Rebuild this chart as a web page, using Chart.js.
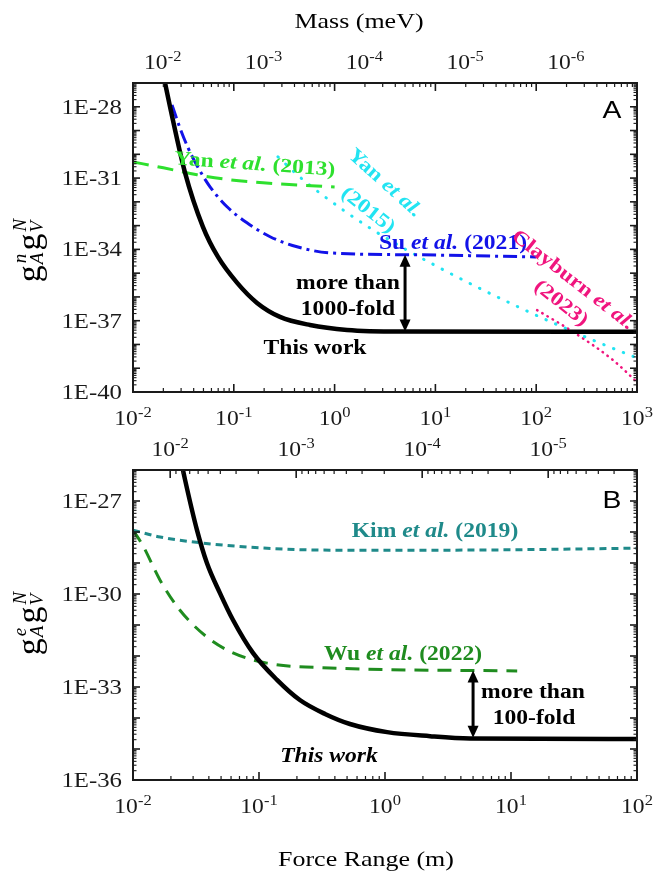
<!DOCTYPE html>
<html>
<head>
<meta charset="utf-8">
<script src="https://cdn.jsdelivr.net/npm/chart.js@4.4.0/dist/chart.umd.min.js"></script>
<style>
html, body { margin: 0; padding: 0; background: #fff; }
#wrap { position: relative; width: 655px; height: 876px; }
.box { position: absolute; left: 0; width: 655px; }
</style>
</head>
<body>
<div id="wrap">
  <div class="box" style="top:0;height:435px"><canvas id="chartA"></canvas></div>
  <div class="box" style="top:435px;height:441px"><canvas id="chartB"></canvas></div>
</div>
<script>
// ---- panel A : g_A^n g_V^N vs force range ----
const forceTicksA = [-2, -1, 0, 1, 2, 3];
const massTicksA = [-2, -3, -4, -5, -6];
const yTicksA = [-28, -31, -34, -37, -40];

const thisWorkA_x = [0.0195, 0.0208, 0.0233, 0.0328, 0.0494, 0.0697, 0.108, 0.170, 0.287, 0.570, 1.33, 4.46, 1000];
const thisWorkA_y = [3.5e-27, 1.0e-27, 1.0e-28, 1.7e-31, 8.9e-34, 4.8e-35, 3.9e-36, 5.6e-37, 1.45e-37, 6.6e-38, 4.1e-38, 3.5e-38, 3.4e-38];
const su2021_x = [0.0244, 0.0292, 0.0352, 0.0432, 0.0581, 0.0857, 0.135, 0.229, 0.424, 0.90, 7.03, 100];
const su2021_y = [1.2e-28, 1.3e-29, 1.86e-30, 3.3e-31, 4.3e-32, 6.2e-33, 1.32e-33, 3.4e-34, 1.29e-34, 7.1e-35, 5.9e-35, 4.8e-35];
const yan2013_x = [0.01, 0.020, 0.0432, 0.0912, 0.195, 1.0];
const yan2013_y = [4.8e-31, 2.7e-31, 1.38e-31, 8.5e-32, 6.3e-32, 4.2e-32];
const yan2015_x = [0.274, 0.486, 1.21, 2.40, 4.78, 11.1, 25.9, 69.0, 147, 401, 1000];
const yan2015_y = [7.8e-31, 8.5e-32, 4.6e-33, 6.6e-34, 1.15e-34, 1.65e-35, 2.6e-36, 3.5e-37, 8.1e-38, 1.29e-38, 2.7e-39];
const clayburn2023_x = [102, 232, 578, 1000];
const clayburn2023_y = [2.8e-37, 3.4e-38, 2.2e-39, 2.6e-40];

// ---- panel B : g_A^e g_V^N vs force range ----
const forceTicksB = [-2, -1, 0, 1, 2];
const massTicksB = [-2, -3, -4, -5];
const yTicksB = [-27, -30, -33, -36];

const thisWorkB_x = [0.024, 0.0259, 0.0322, 0.0386, 0.0490, 0.0622, 0.0895, 0.139, 0.211, 0.334, 0.527, 1.04, 2.28, 4.73, 100];
const thisWorkB_y = [2.1e-26, 4.8e-27, 1.15e-28, 1.0e-29, 1.07e-30, 1.45e-31, 1.26e-32, 1.7e-33, 3.8e-34, 1.35e-34, 6.4e-35, 3.5e-35, 2.6e-35, 2.2e-35, 2.1e-35];
const kim2019_x = [0.01, 0.0164, 0.034, 0.116, 0.366, 3.28, 100];
const kim2019_y = [1.15e-28, 6.9e-29, 4.5e-29, 3.0e-29, 2.6e-29, 2.6e-29, 3.0e-29];
const wu2022_x = [0.01, 0.012, 0.0164, 0.0236, 0.0386, 0.0622, 0.116, 0.366, 11.2];
const wu2022_y = [1.15e-28, 3.6e-29, 2.8e-30, 3.0e-31, 4.1e-32, 1.26e-32, 5.9e-33, 4.1e-33, 3.3e-33];

// hbar*c in m*meV, converts mass to force range for the top axis
const HBARC = 1.973e-4;

const SERIF = '"Liberation Serif", "Times New Roman", serif';
const SX = 1.18; // the original figure is a bit stretched sideways

const C = {
  black: '#000000', su: '#1212e8', yan13: '#2ee02e', yan15: '#22e4f2',
  clay: '#f0157e', kim: '#1f8a8a', wu: '#1f8c1f', axis: '#1a1a1a'
};

function pts(xs, ys) { return xs.map((x, i) => ({ x: x, y: ys[i] })); }

function line(ctx, x1, y1, x2, y2, w) {
  ctx.lineWidth = w;
  ctx.beginPath(); ctx.moveTo(x1, y1); ctx.lineTo(x2, y2); ctx.stroke();
}

function logTicks(min, max) {
  const out = [];
  for (let e = Math.floor(Math.log10(min)) - 1; e <= Math.ceil(Math.log10(max)); e++) {
    for (let j = 1; j <= 9; j++) {
      const v = j * Math.pow(10, e);
      if (v >= min * 0.999 && v <= max * 1.001) out.push({ v: v, major: j === 1 });
    }
  }
  return out;
}

// rich text centred at (cx, cy), parts = [[text, font, dy]]
function rich(ctx, parts, cx, cy, color, angle) {
  ctx.save();
  ctx.translate(cx, cy);
  ctx.rotate((angle || 0) * Math.PI / 180);
  ctx.scale(SX, 1);
  ctx.fillStyle = color;
  ctx.textBaseline = 'alphabetic';
  ctx.textAlign = 'left';
  let w = 0;
  parts.forEach(p => { ctx.font = p[1]; w += ctx.measureText(p[0]).width; });
  let x = -w / 2;
  parts.forEach(p => {
    ctx.font = p[1];
    ctx.fillText(p[0], x, 7 + (p[2] || 0));
    x += ctx.measureText(p[0]).width;
  });
  ctx.restore();
}

function powLabel(ctx, exp, cx, baseY) {
  rich(ctx, [['10', '20px ' + SERIF, 0], [String(exp), '14px ' + SERIF, -8]], cx, baseY - 7, C.axis, 0);
}

function dblArrow(ctx, x, y1, y2) {
  const h = 12, w = 5.5;
  ctx.save();
  ctx.strokeStyle = '#000'; ctx.fillStyle = '#000';
  line(ctx, x, y1 + h - 2, x, y2 - h + 2, 3);
  ctx.beginPath(); ctx.moveTo(x, y1); ctx.lineTo(x - w, y1 + h); ctx.lineTo(x + w, y1 + h); ctx.closePath(); ctx.fill();
  ctx.beginPath(); ctx.moveTo(x, y2); ctx.lineTo(x - w, y2 - h); ctx.lineTo(x + w, y2 - h); ctx.closePath(); ctx.fill();
  ctx.restore();
}

function yTitle(ctx, sup, sub2, cx, cy) {
  const big = '34px ' + SERIF, sm = 'italic 19px ' + SERIF;
  ctx.save();
  ctx.translate(cx, cy);
  ctx.rotate(-Math.PI / 2);
  ctx.fillStyle = '#000';
  ctx.textBaseline = 'alphabetic';
  const seq = [['g', 'A', sup], ['g', 'V', sub2]];
  let total = 0;
  seq.forEach(s => {
    ctx.font = big; total += ctx.measureText(s[0]).width + 1;
    ctx.font = sm; total += Math.max(ctx.measureText(s[1]).width, ctx.measureText(s[2]).width) + 2;
  });
  let x = -total / 2;
  seq.forEach(s => {
    ctx.font = big; ctx.fillText(s[0], x, 6); x += ctx.measureText(s[0]).width + 1;
    ctx.font = sm;
    ctx.fillText(s[1], x, 9);
    ctx.fillText(s[2], x + 1, -8);
    x += Math.max(ctx.measureText(s[1]).width, ctx.measureText(s[2]).width) + 2;
  });
  ctx.restore();
}

function drawFrame(chart, cfg) {
  const ctx = chart.ctx, a = chart.chartArea, xs = chart.scales.x, ys = chart.scales.y;
  ctx.save();
  ctx.strokeStyle = C.axis;
  logTicks(xs.min, xs.max).forEach(t => {
    const px = xs.getPixelForValue(t.v), L = t.major ? 8 : 4, w = t.major ? 1.6 : 1.2;
    line(ctx, px, a.bottom, px, a.bottom - L, w);
    if (cfg.mirrorTop) line(ctx, px, a.top, px, a.top + L, w);
  });
  if (!cfg.mirrorTop) {
    logTicks(HBARC / xs.max, HBARC / xs.min).forEach(t => {
      const px = xs.getPixelForValue(HBARC / t.v), L = t.major ? 8 : 4;
      line(ctx, px, a.top, px, a.top + L, t.major ? 1.6 : 1.2);
    });
  }
  logTicks(ys.min, ys.max).forEach(t => {
    const py = ys.getPixelForValue(t.v), L = t.major ? 7 : 3.5, w = t.major ? 1.6 : 1.1;
    line(ctx, a.left, py, a.left + L, py, w);
    line(ctx, a.right, py, a.right - L, py, w);
  });
  ctx.lineWidth = 2;
  ctx.strokeRect(a.left, a.top, a.right - a.left, a.bottom - a.top);

  // tick labels
  cfg.forceTicks.forEach(e => powLabel(ctx, e, xs.getPixelForValue(Math.pow(10, e)), a.bottom + 33));
  cfg.massTicks.forEach(e => powLabel(ctx, e, xs.getPixelForValue(HBARC / Math.pow(10, e)), a.top - 14));
  cfg.yTicks.forEach(e => {
    const py = ys.getPixelForValue(Math.pow(10, e));
    ctx.save();
    ctx.font = '21px ' + SERIF; ctx.fillStyle = C.axis;
    const w = ctx.measureText('1E' + e).width * SX;
    ctx.translate(a.left - 11 - w, py + 7); ctx.scale(SX, 1);
    ctx.fillText('1E' + e, 0, 0);
    ctx.restore();
  });
  ctx.restore();
}

function ds(xs, ys, color, width, dash, cap) {
  return {
    data: pts(xs, ys), borderColor: color, borderWidth: width, borderDash: dash || [],
    borderCapStyle: cap || 'butt', borderJoinStyle: 'round', cubicInterpolationMode: 'monotone',
    pointRadius: 0, fill: false
  };
}

function makeChart(id, xMax, yMin, yMax, datasets, pad, extras) {
  return new Chart(document.getElementById(id), {
    type: 'line',
    data: { datasets: datasets },
    options: {
      responsive: true, maintainAspectRatio: false, animation: false,
      layout: { padding: pad },
      plugins: { legend: { display: false }, tooltip: { enabled: false } },
      scales: {
        x: { type: 'logarithmic', min: 0.01, max: xMax, ticks: { display: false }, grid: { display: false },
             border: { display: false }, afterFit: s => { s.height = 0; } },
        y: { type: 'logarithmic', min: yMin, max: yMax, ticks: { display: false }, grid: { display: false },
             border: { display: false }, afterFit: s => { s.width = 0; } }
      }
    },
    plugins: [{ id: 'frame', afterDraw: extras }]
  });
}

const B20 = 'bold 20px ' + SERIF, BI20 = 'italic bold 20px ' + SERIF;

makeChart('chartA', 1000, 1e-40, 1e-27, [
  ds(thisWorkA_x, thisWorkA_y, C.black, 4.5),
  ds(su2021_x, su2021_y, C.su, 3, [14, 5, 3, 5]),
  ds(yan2013_x, yan2013_y, C.yan13, 3, [16, 9]),
  ds(yan2015_x, yan2015_y, C.yan15, 3, [0.5, 10], 'round'),
  ds(clayburn2023_x, clayburn2023_y, C.clay, 2.5, [0.5, 5.5], 'round')
], { left: 133, right: 18, top: 83, bottom: 43 }, chart => {
  const ctx = chart.ctx, xs = chart.scales.x, ys = chart.scales.y;
  drawFrame(chart, { forceTicks: forceTicksA, massTicks: massTicksA, yTicks: yTicksA, mirrorTop: true });
  rich(ctx, [['Mass (meV)', '22px ' + SERIF]], 359, 21, '#000');
  yTitle(ctx, 'n', 'N', 34, 250);
  rich(ctx, [['A', '24px "Liberation Sans", Arial, sans-serif']], 612, 111, '#000');
  rich(ctx, [['Yan ', B20], ['et al.', BI20], [' (2013)', B20]], 255, 163, C.yan13, 4);
  rich(ctx, [['Yan ', B20], ['et al.', BI20]], 386, 182, C.yan15, 42);
  rich(ctx, [['(2015)', B20]], 369, 209, C.yan15, 38);
  rich(ctx, [['Su ', B20], ['et al.', BI20], [' (2021)', B20]], 453, 242, C.su, 0);
  rich(ctx, [['Clayburn ', B20], ['et al.', BI20]], 574, 279, C.clay, 38);
  rich(ctx, [['(2023)', B20]], 562, 302, C.clay, 38);
  rich(ctx, [['more than', B20]], 348, 282, '#000');
  rich(ctx, [['1000-fold', B20]], 348, 308, '#000');
  rich(ctx, [['This work', B20]], 315, 347, '#000');
  dblArrow(ctx, xs.getPixelForValue(5), ys.getPixelForValue(5.9e-35), ys.getPixelForValue(3.5e-38));
});

makeChart('chartB', 100, 1e-36, 1e-26, [
  ds(thisWorkB_x, thisWorkB_y, C.black, 4.5),
  ds(kim2019_x, kim2019_y, C.kim, 3, [7, 5]),
  ds(wu2022_x, wu2022_y, C.wu, 3, [14, 9])
], { left: 133, right: 18, top: 35, bottom: 96 }, chart => {
  const ctx = chart.ctx, xs = chart.scales.x, ys = chart.scales.y;
  drawFrame(chart, { forceTicks: forceTicksB, massTicks: massTicksB, yTicks: yTicksB, mirrorTop: false });
  rich(ctx, [['Force Range (m)', '22px ' + SERIF]], 366, 424, '#000');
  yTitle(ctx, 'e', 'N', 34, 188);
  rich(ctx, [['B', '24px "Liberation Sans", Arial, sans-serif']], 612, 66, '#000');
  rich(ctx, [['Kim ', B20], ['et al.', BI20], [' (2019)', B20]], 435, 95, C.kim, 0);
  rich(ctx, [['Wu ', B20], ['et al.', BI20], [' (2022)', B20]], 403, 218, C.wu, 0);
  rich(ctx, [['more than', B20]], 533, 256, '#000');
  rich(ctx, [['100-fold', B20]], 534, 282, '#000');
  rich(ctx, [['This work', BI20]], 329, 320, '#000');
  dblArrow(ctx, xs.getPixelForValue(5), ys.getPixelForValue(3.4e-33), ys.getPixelForValue(2.3e-35));
});
</script>
</body>
</html>
